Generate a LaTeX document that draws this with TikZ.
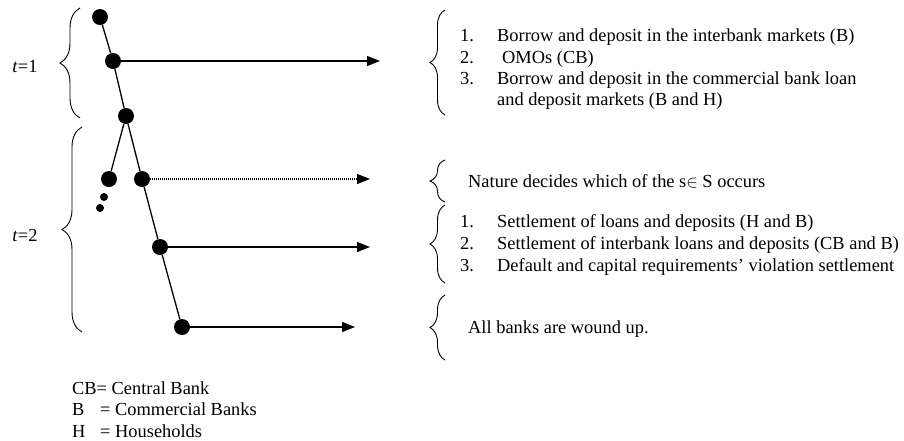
\documentclass[tikz,border=0pt]{standalone}
\usepackage{fontspec}
\setmainfont{Liberation Serif}
\usetikzlibrary{arrows.meta,decorations.pathreplacing}
\begin{document}
\begin{tikzpicture}[x=1pt,y=-1pt,
  dot/.style={circle,fill=black,inner sep=0,minimum size=16pt},
  sdot/.style={circle,fill=black,inner sep=0,minimum size=8pt},
  edge/.style={line width=1.3pt},
  arr/.style={line width=1.3pt,-{Triangle[length=13pt,width=10pt]}},
  darr/.style={line width=1.3pt,dash pattern=on 1pt off 1pt,-{Triangle[length=13pt,width=10pt]}},
  lbrace/.style={decorate,decoration={brace,amplitude=20pt},line width=0.9pt},
  rbrace/.style={decorate,decoration={brace,amplitude=15pt},line width=0.9pt},
  txt/.style={anchor=base west,inner sep=0,font=\fontsize{18.4}{22}\selectfont},
]
\useasboundingbox (0,0) rectangle (904,440);
% tree
\node[dot] (n0) at (100,17) {};
\node[dot] (n1) at (113,61) {};
\node[dot] (n2) at (126,116) {};
\node[dot] (n3) at (109,179) {};
\node[dot] (n4) at (142,179) {};
\node[sdot] (d1) at (104,197) {};
\node[sdot] (d2) at (100,208) {};
\node[dot] (n5) at (160,247) {};
\node[dot] (n6) at (182,327) {};
\draw[edge] (n0) -- (n1) -- (n2) -- (n4) -- (n5) -- (n6);
\draw[edge] (n2) -- (n3);
% arrows
\coordinate (a1) at (380,61);
\coordinate (a2) at (370,179);
\coordinate (a3) at (370,247);
\coordinate (a4) at (355,327);
\draw[arr] (n1) -- (a1);
\draw[darr] (n4) -- (a2);
\draw[arr] (n5) -- (a3);
\draw[arr] (n6) -- (a4);
% left braces and labels
\draw[lbrace] (80,118) -- (80,8);
\draw[lbrace] (82,332) -- (82,127);
\node[txt,anchor=base] (t1) at (25,72) {\textit{t}=1};
\node[txt,anchor=base] (t2) at (25,241) {\textit{t}=2};
% right braces
\draw[rbrace] (445,115) -- (445,10);
\draw[rbrace] (445,202) -- (445,160);
\draw[rbrace] (445,283) -- (445,205);
\draw[rbrace] (445,360) -- (445,295);
% texts
\node[txt] (p1n) at (460,41) {1.};
\node[txt] (p1) at (497,41) {Borrow and deposit in the interbank markets (B)};
\node[txt] (p2n) at (460,63) {2.};
\node[txt] (p2) at (502,63) {OMOs (CB)};
\node[txt] (p3n) at (460,84) {3.};
\node[txt] (p3) at (497,84) {Borrow and deposit in the commercial bank loan};
\node[txt] (p3b) at (497,105) {and deposit markets (B and H)};
\node[txt] (nat) at (468,187) {Nature decides which of the s$\in$ S occurs};
\node[txt] (s1n) at (460,227) {1.};
\node[txt] (s1) at (497,227) {Settlement of loans and deposits (H and B)};
\node[txt] (s2n) at (460,249) {2.};
\node[txt] (s2) at (497,249) {Settlement of interbank loans and deposits (CB and B)};
\node[txt] (s3n) at (460,271) {3.};
\node[txt] (s3) at (497,271) {Default and capital requirements’ violation settlement};
\node[txt] (wnd) at (468,333) {All banks are wound up.};
% legend
\node[txt] (lg1) at (72,394) {CB= Central Bank};
\node[txt] (lg2a) at (72,415) {B};
\node[txt] (lg2b) at (100,415) {= Commercial Banks};
\node[txt] (lg3a) at (72,437) {H};
\node[txt] (lg3b) at (100,437) {= Households};
\end{tikzpicture}
\end{document}
